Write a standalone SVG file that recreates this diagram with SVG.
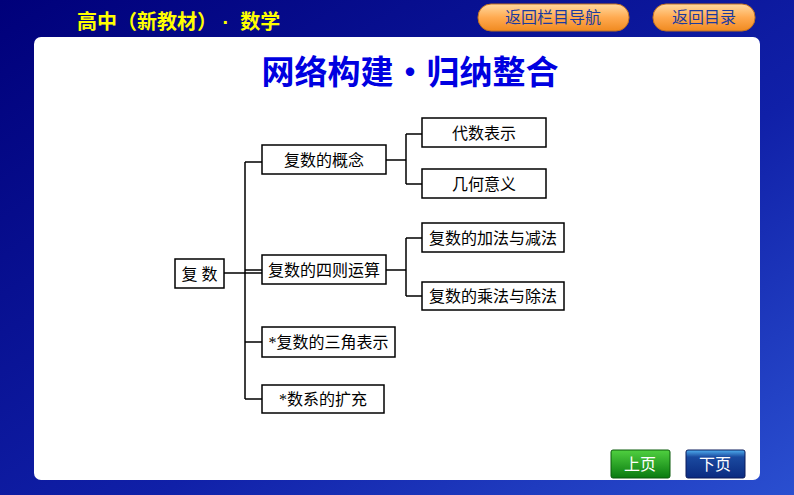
<svg xmlns="http://www.w3.org/2000/svg" width="794" height="495" viewBox="0 0 794 495">
<defs>
<linearGradient id="bg" x1="0" y1="0" x2="1" y2="1"><stop offset="0" stop-color="#00007a"/><stop offset="0.6" stop-color="#1020a8"/><stop offset="1" stop-color="#2a4fd0"/></linearGradient>
<linearGradient id="or" x1="0" y1="0" x2="0" y2="1"><stop offset="0" stop-color="#ffd9a0"/><stop offset="0.5" stop-color="#ffaa50"/><stop offset="1" stop-color="#f08a20"/></linearGradient>
<linearGradient id="gr" x1="0" y1="0" x2="0" y2="1"><stop offset="0" stop-color="#50d040"/><stop offset="1" stop-color="#0a7a10"/></linearGradient>
<linearGradient id="bl" x1="0" y1="0" x2="0" y2="1"><stop offset="0" stop-color="#50b0f0"/><stop offset="0.25" stop-color="#1a4aa0"/><stop offset="1" stop-color="#0a2a80"/></linearGradient>
</defs>
<style>
.n rect{fill:#fff;stroke:#000;stroke-width:1.5}
.n text{font-family:"Liberation Serif","Noto Sans CJK SC",serif;font-size:16px;text-anchor:middle;dominant-baseline:central;fill:#000}
#connectors path{fill:none;stroke:#000;stroke-width:1.5}
</style>
<rect width="794" height="495" fill="url(#bg)"/>
<rect x="34" y="37" width="726" height="443" rx="7" fill="#fff"/>
<text x="77" y="29" font-family="Liberation Sans,Noto Sans CJK SC,sans-serif" font-size="20" font-weight="bold" fill="#ffff00" xml:space="preserve">高中（新教材） ·  数学</text>
<g>
<rect x="478" y="4" width="151" height="27" rx="13" fill="url(#or)" stroke="#c07020"/>
<text x="553" y="23" font-family="Noto Sans CJK SC,sans-serif" font-size="16" text-anchor="middle" fill="#1a3aa0">返回栏目导航</text>
<rect x="653" y="4" width="102" height="27" rx="13" fill="url(#or)" stroke="#c07020"/>
<text x="704" y="23" font-family="Noto Sans CJK SC,sans-serif" font-size="16" text-anchor="middle" fill="#1a3aa0">返回目录</text>
</g>
<text x="410" y="84" font-family="Noto Sans CJK SC,sans-serif" font-size="33" font-weight="bold" text-anchor="middle" fill="#0000e0">网络构建·归纳整合</text>
<g id="connectors">
<path d="M224 273H262M245 162V399M245 162H262M245 270H262M245 342H262M245 399H262"/>
<path d="M386 160H406M406 134V184M406 134H422M406 184H422"/>
<path d="M386 270H406M406 238V296M406 238H422M406 296H422"/>
</g>
<g id="n0" class="n"><rect x="175" y="259" width="49" height="29"/><text x="199.5" y="274">复 数</text></g>
<g id="n1" class="n"><rect x="262" y="145" width="124" height="29"/><text x="324" y="160">复数的概念</text></g>
<g id="n2" class="n"><rect x="262" y="255" width="124" height="29"/><text x="324" y="270">复数的四则运算</text></g>
<g id="n3" class="n"><rect x="262" y="327" width="133" height="30"/><text x="328.5" y="342">*复数的三角表示</text></g>
<g id="n4" class="n"><rect x="262" y="385" width="122" height="28"/><text x="323" y="399">*数系的扩充</text></g>
<g id="n5" class="n"><rect x="422" y="118" width="124" height="29"/><text x="484" y="133">代数表示</text></g>
<g id="n6" class="n"><rect x="422" y="169" width="124" height="29"/><text x="484" y="184">几何意义</text></g>
<g id="n7" class="n"><rect x="422" y="223" width="142" height="29"/><text x="493" y="238">复数的加法与减法</text></g>
<g id="n8" class="n"><rect x="422" y="282" width="142" height="28"/><text x="493" y="296">复数的乘法与除法</text></g>
<g>
<rect x="611" y="450" width="59" height="28" rx="2" fill="url(#gr)" stroke="#0a5a0a"/>
<text x="640" y="470" font-family="Noto Sans CJK SC,sans-serif" font-size="16" text-anchor="middle" fill="#fff">上页</text>
<rect x="686" y="450" width="59" height="28" rx="2" fill="url(#bl)" stroke="#0a1a5a"/>
<text x="715" y="470" font-family="Noto Sans CJK SC,sans-serif" font-size="16" text-anchor="middle" fill="#fff">下页</text>
</g>
</svg>
